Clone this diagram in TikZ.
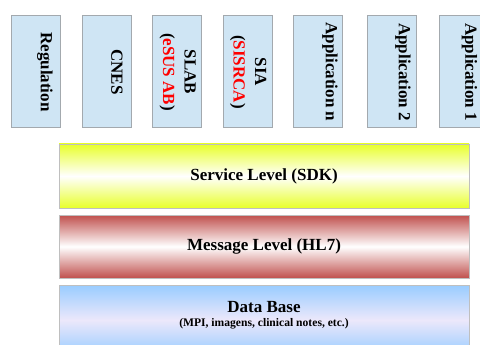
\documentclass[tikz,border=0pt]{standalone}
\usepackage{fontspec}
\setmainfont{Liberation Serif}
\definecolor{boxfill}{HTML}{CFE5F4}
\definecolor{boxline}{HTML}{A3A9AE}
\definecolor{layline}{HTML}{BFBFBF}
\definecolor{yel}{HTML}{E8FF2A}
\definecolor{brick}{HTML}{C0504D}
\definecolor{sky}{HTML}{99CCFF}
\definecolor{lav}{HTML}{ECE8FB}
\definecolor{redtxt}{HTML}{FF0000}
\tikzset{
  topbox/.style={draw=boxline, line width=0.9pt, fill=boxfill, minimum width=49pt, minimum height=112pt, inner sep=0pt},
  vlabel/.style={rotate=-90, inner sep=0pt, align=center, font=\fontsize{17}{21.5}\selectfont\bfseries},
  layer/.style={draw=layline, line width=0.9pt, minimum width=410pt, inner sep=0pt},
  llabel/.style={inner sep=0pt, font=\fontsize{17}{20}\selectfont\bfseries},
  slabel/.style={inner sep=0pt, font=\fontsize{11.6}{13}\selectfont\bfseries}
}
\begin{document}
\begin{tikzpicture}[x=1pt,y=-1pt]
\useasboundingbox (0,0) rectangle (480,345);
\clip (0,0) rectangle (480,345);
\fill[white] (0,0) rectangle (480,345);
% top boxes
\node[topbox] (reg) at (35.5,71.5) {};
\node[topbox] (cnes) at (107,71.5) {};
\node[topbox] (slab) at (177,71.5) {};
\node[topbox] (sia) at (248,71.5) {};
\node[topbox] (appn) at (318,71.5) {};
\node[topbox] (app2) at (392,71.5) {};
\node[topbox] (app1) at (464,71.5) {};
\node[vlabel] (regt) at (45,72) {Regulation};
\node[vlabel] (cnest) at (117,72) {CNES};
\node[vlabel] (slabt) at (177.8,72) {SLAB\\({\color{redtxt}eSUS AB})};
\node[vlabel] (siat) at (248.3,72) {SIA\\({\color{redtxt}SISRCA})};
\node[vlabel] (appnt) at (330,72) {Application n};
\node[vlabel] (app2t) at (403,72) {Application 2};
\node[vlabel] (app1t) at (469.5,72) {Application 1};
% layers
\node[layer, minimum height=64pt, top color=yel, bottom color=yel, middle color=white] (svc) at (264,176) {};
\node[llabel] (svct) at (264,176) {Service Level (SDK)};
\node[layer, minimum height=63pt, top color=brick, bottom color=brick, middle color=white] (msg) at (264,246.5) {};
\node[llabel] (msgt) at (264,246.5) {Message Level (HL7)};
\node[layer, minimum height=70pt, top color=sky, bottom color=sky, middle color=lav] (db) at (264,320) {};
\node[llabel] (dbt) at (264,307) {Data Base};
\node[slabel] (dbs) at (264,324) {(MPI, imagens, clinical notes, etc.)};
\end{tikzpicture}
\end{document}
